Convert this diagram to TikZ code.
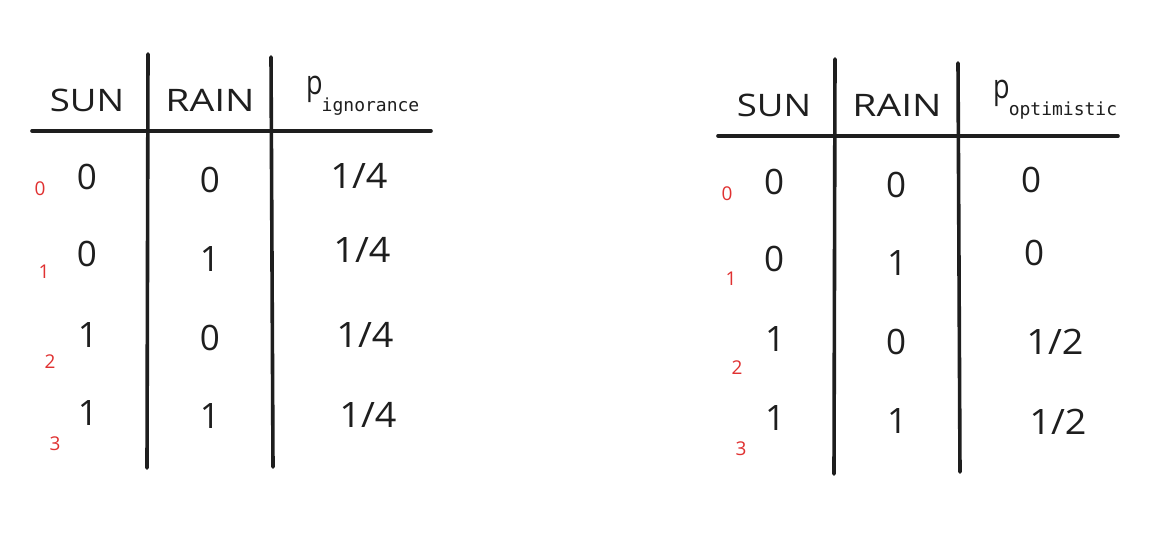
\documentclass[tikz,border=0pt]{standalone}
\usepackage{graphicx}
\usepackage{fontspec}
\setmainfont{Open Sans}
\newfontfamily\monof{DejaVu Sans Mono}
\definecolor{ink}{HTML}{1E1E1E}
\definecolor{redink}{HTML}{E03131}
\tikzset{
  rule/.style={line width=3.6pt, draw=ink, line cap=round},
  head/.style={font=\fontsize{31}{31}\selectfont, text=ink, inner sep=0pt, anchor=center},
  cell/.style={font=\fontsize{35}{35}\selectfont, text=ink, inner sep=0pt, anchor=center},
  idx/.style={font=\fontsize{19}{19}\selectfont, text=redink, inner sep=0pt, anchor=center},
  prob/.style={font=\fontsize{27}{27}\selectfont, text=ink, inner sep=0pt, anchor=base west},
}
\newcommand{\subtxt}[1]{\raisebox{-17pt}{\monof\fontsize{18}{18}\selectfont #1}}
\newcommand{\wider}[2]{\scalebox{#1}[1]{#2}}
\begin{document}
\begin{tikzpicture}[x=1pt,y=-1pt]
\useasboundingbox[fill=white] (0,0) rectangle (1168,537);
% ---------- left table ----------
\draw[rule] (32,131) -- (431,131);
\draw[rule] (148,54) -- (147,468);
\draw[rule] (271,57) -- (273,467);
\node[head] (lsun) at (87,100) {\wider{1.18}{SUN}};
\node[head] (lrain) at (210,100) {\wider{1.26}{RAIN}};
\node[prob] (lp) at (306,95) {\scalebox{1}[1.25]{p}\hspace{-1pt}\subtxt{ignorance}};
\node[cell] (l00) at (87,177) {0};
\node[cell] (l01) at (210,180) {0};
\node[cell] (l02) at (359,176) {\wider{1.08}{1/4}};
\node[cell] (l10) at (87,254) {0};
\node[cell] (l11) at (210,259) {1};
\node[cell] (l12) at (362,250) {\wider{1.08}{1/4}};
\node[cell] (l20) at (88,335) {1};
\node[cell] (l21) at (210,338) {0};
\node[cell] (l22) at (365,335) {\wider{1.08}{1/4}};
\node[cell] (l30) at (88,413) {1};
\node[cell] (l31) at (210,416) {1};
\node[cell] (l32) at (368,415) {\wider{1.08}{1/4}};
\node[idx] (li0) at (40,189) {0};
\node[idx] (li1) at (44,272) {1};
\node[idx] (li2) at (50,362) {2};
\node[idx] (li3) at (55,444) {3};
% ---------- right table ----------
\draw[rule] (718,136) -- (1118,136);
\draw[rule] (835,59) -- (834,474);
\draw[rule] (958,63) -- (960,472);
\node[head] (rsun) at (774,105) {\wider{1.18}{SUN}};
\node[head] (rrain) at (897,105) {\wider{1.26}{RAIN}};
\node[prob] (rp) at (993,99) {\scalebox{1}[1.25]{p}\hspace{-1pt}\subtxt{optimistic}};
\node[cell] (r00) at (774,182) {0};
\node[cell] (r01) at (896,185) {0};
\node[cell] (r02) at (1031,180) {0};
\node[cell] (r10) at (774,259) {0};
\node[cell] (r11) at (897,263) {1};
\node[cell] (r12) at (1034,253) {0};
\node[cell] (r20) at (775,339) {1};
\node[cell] (r21) at (896,342) {0};
\node[cell] (r22) at (1055,342) {\wider{1.08}{1/2}};
\node[cell] (r30) at (775,418) {1};
\node[cell] (r31) at (897,421) {1};
\node[cell] (r32) at (1058,422) {\wider{1.08}{1/2}};
\node[idx] (ri0) at (727,194) {0};
\node[idx] (ri1) at (731,279) {1};
\node[idx] (ri2) at (737,368) {2};
\node[idx] (ri3) at (741,449) {3};
\end{tikzpicture}
\end{document}
